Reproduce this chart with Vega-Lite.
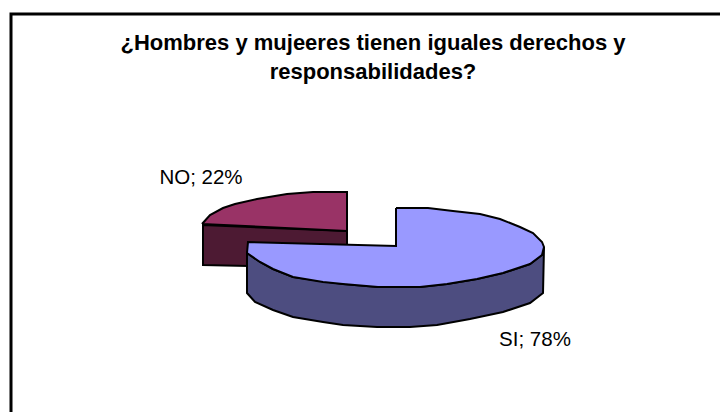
{
"$schema":"https://vega.github.io/schema/vega-lite/v6.json",
"width":720,"height":412,"padding":0,"autosize":{"type":"none"},
"background":"white",
"view":{"stroke":null},
"title":{"text":["¿Hombres y mujeeres tienen iguales derechos y","responsabilidades?"],"font":"Liberation Sans","fontSize":22,"fontWeight":"bold","color":"black","anchor":"start","align":"center","frame":"group","baseline":"top","dx":373,"dy":84,"lineHeight":29,"offset":0},
"datasets":{
"outline":[
{"part":"frame","o":1,"x":11,"y":412},{"part":"frame","o":2,"x":11,"y":14},{"part":"frame","o":3,"x":720,"y":14},
{"part":"NO side","o":1,"x":203,"y":225},{"part":"NO side","o":2,"x":347,"y":231},{"part":"NO side","o":3,"x":347,"y":246},{"part":"NO side","o":4,"x":248,"y":246},{"part":"NO side","o":5,"x":248,"y":266},{"part":"NO side","o":6,"x":203,"y":265},{"part":"NO side","o":7,"x":203,"y":225},
{"part":"NO top","o":1,"x":202,"y":224},{"part":"NO top","o":2,"x":210,"y":215},{"part":"NO top","o":3,"x":223,"y":208},{"part":"NO top","o":4,"x":235,"y":204},{"part":"NO top","o":5,"x":257,"y":199},{"part":"NO top","o":6,"x":287,"y":194},{"part":"NO top","o":7,"x":313,"y":192},{"part":"NO top","o":8,"x":347,"y":192},{"part":"NO top","o":9,"x":347,"y":231},{"part":"NO top","o":10,"x":202,"y":224},
{"part":"SI side","o":1,"x":544,"y":247},{"part":"SI side","o":2,"x":542,"y":255},{"part":"SI side","o":3,"x":530,"y":264},{"part":"SI side","o":4,"x":503,"y":273},{"part":"SI side","o":5,"x":477,"y":279},{"part":"SI side","o":6,"x":447,"y":284},{"part":"SI side","o":7,"x":420,"y":287},{"part":"SI side","o":8,"x":378,"y":287},{"part":"SI side","o":9,"x":343,"y":284},{"part":"SI side","o":10,"x":293,"y":277},{"part":"SI side","o":11,"x":273,"y":269},{"part":"SI side","o":12,"x":260,"y":262},{"part":"SI side","o":13,"x":247,"y":253},{"part":"SI side","o":14,"x":247,"y":293},{"part":"SI side","o":15,"x":255,"y":302},{"part":"SI side","o":16,"x":273,"y":310},{"part":"SI side","o":17,"x":293,"y":317},{"part":"SI side","o":18,"x":323,"y":322},{"part":"SI side","o":19,"x":343,"y":325},{"part":"SI side","o":20,"x":377,"y":327},{"part":"SI side","o":21,"x":410,"y":327},{"part":"SI side","o":22,"x":437,"y":325},{"part":"SI side","o":23,"x":470,"y":319},{"part":"SI side","o":24,"x":503,"y":312},{"part":"SI side","o":25,"x":530,"y":303},{"part":"SI side","o":26,"x":543,"y":293},{"part":"SI side","o":27,"x":544,"y":247},
{"part":"SI top","o":1,"x":396,"y":208},{"part":"SI top","o":2,"x":428,"y":208},{"part":"SI top","o":3,"x":453,"y":211},{"part":"SI top","o":4,"x":480,"y":214},{"part":"SI top","o":5,"x":500,"y":219},{"part":"SI top","o":6,"x":520,"y":227},{"part":"SI top","o":7,"x":533,"y":233},{"part":"SI top","o":8,"x":542,"y":242},{"part":"SI top","o":9,"x":544,"y":247},{"part":"SI top","o":10,"x":542,"y":255},{"part":"SI top","o":11,"x":530,"y":264},{"part":"SI top","o":12,"x":503,"y":273},{"part":"SI top","o":13,"x":477,"y":279},{"part":"SI top","o":14,"x":447,"y":284},{"part":"SI top","o":15,"x":420,"y":287},{"part":"SI top","o":16,"x":378,"y":287},{"part":"SI top","o":17,"x":343,"y":284},{"part":"SI top","o":18,"x":323,"y":282},{"part":"SI top","o":19,"x":293,"y":277},{"part":"SI top","o":20,"x":273,"y":269},{"part":"SI top","o":21,"x":260,"y":262},{"part":"SI top","o":22,"x":247,"y":253},{"part":"SI top","o":23,"x":248,"y":242},{"part":"SI top","o":24,"x":396,"y":246},{"part":"SI top","o":25,"x":396,"y":208}
],
"labels":[{"label":"NO; 22%","x":201,"y":178},{"label":"SI; 78%","x":535,"y":340}]
},
"data":{"name":"outline"},
"encoding":{
"x":{"field":"x","type":"quantitative","scale":{"domain":[0,720]},"axis":null},
"y":{"field":"y","type":"quantitative","scale":{"domain":[0,412],"reverse":true},"axis":null},
"order":{"field":"o"}
},
"layer":[
{"transform":[{"filter":"datum.part==='frame'"}],"mark":{"type":"line","stroke":"black","strokeWidth":3,"clip":false}},
{"transform":[{"filter":"datum.part==='NO side'"}],"mark":{"type":"line","fill":"#4D1A33","stroke":"black","strokeWidth":2}},
{"transform":[{"filter":"datum.part==='NO top'"}],"mark":{"type":"line","fill":"#993366","stroke":"black","strokeWidth":2}},
{"transform":[{"filter":"datum.part==='SI side'"}],"mark":{"type":"line","fill":"#4D4D80","stroke":"black","strokeWidth":2}},
{"transform":[{"filter":"datum.part==='SI top'"}],"mark":{"type":"line","fill":"#9999FF","stroke":"black","strokeWidth":2}},
{"data":{"name":"labels"},"mark":{"type":"text","font":"Liberation Sans","fontSize":20.5,"align":"center","baseline":"middle","color":"black"},"encoding":{"text":{"field":"label"},"order":null}}
]
}
